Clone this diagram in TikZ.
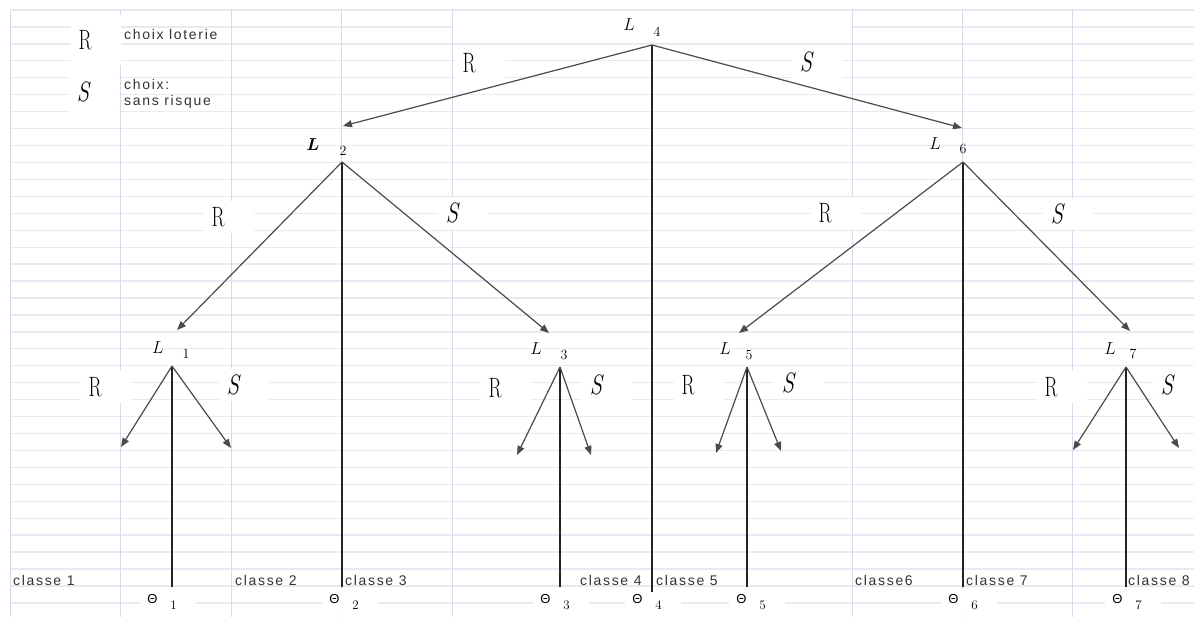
\documentclass[tikz,border=0pt]{standalone}
\usepackage{amsmath}
\usepackage{fontspec}
\usepackage{graphicx}
\usepackage{tikz}
\usetikzlibrary{arrows.meta,positioning,calc}
\newfontfamily\sheetfont[LetterSpace=12]{Liberation Sans}
\newfontfamily\thetafont{Liberation Sans}
\definecolor{rowline}{RGB}{231,234,243}
\definecolor{colline}{RGB}{213,219,234}
\definecolor{branch}{RGB}{75,75,75}
\definecolor{stemc}{RGB}{35,35,35}
\definecolor{inkt}{RGB}{55,50,45}
\newcommand{\narrowR}{\scalebox{0.68}[1]{R}}
\newcommand{\narrowS}{\scalebox{0.8}[1]{\itshape S}}

\begin{document}
\begin{tikzpicture}[x=1pt,y=-1pt,
      hrow/.style={draw=rowline,line width=1.3pt},
      vcol/.style={draw=colline,line width=1pt},
      choice/.style={fill=white,inner sep=0pt,minimum width=50pt,minimum height=32pt,
                     font=\fontsize{28}{28}\selectfont},
      legend/.style={choice,minimum height=50pt},
      lot/.style={inner sep=0pt,font=\fontsize{17}{17}\selectfont},
      idx/.style={inner sep=0pt,font=\fontsize{14}{14}\selectfont},
      th/.style={fill=white,inner sep=0pt,minimum width=56pt,minimum height=26pt,
                 font=\thetafont\fontsize{13}{13}\selectfont},
      cls/.style={inner sep=0pt,anchor=base west,text=inkt,font=\sheetfont\fontsize{14}{14}\selectfont},
      ar/.style={-{Triangle[length=9pt,width=7pt]},line width=1.2pt,color=branch},
      stem/.style={line width=1.4pt,color=stemc}]
      \useasboundingbox (0,0) rectangle (1194,617);
      \fill[white] (0,0) rectangle (1194,617);
      % spreadsheet grid
      \foreach \k in {0,...,35} \draw[hrow] (10,10+16.94*\k) -- (1194,10+16.94*\k);
      \fill[white] (453,18) rectangle (851,35);
      \foreach \x in {10,120,231,341,452,852,962,1072} \draw[vcol] (\x,10) -- (\x,617);
      % legend
      \node[legend] (keyR) at (96,40) {\narrowR\hspace*{22pt}};
      \node[legend] (keyS) at (94,92) {\narrowS\hspace*{22pt}};
      \node[cls] (keyRtxt) at (124,40) {choix loterie};
      \node[cls] (keyStxt) at (124,90) {choix:};
      \node[cls] (keyStxt2) at (124,106) {sans risque};
      % lotteries
      \node[lot] (L4) at (629,25) {$L$};  \node[idx] (n4) at (657,32) {4};
      \node[lot] (L2) at (313,145) {$\boldsymbol{L}$}; \node[idx] (n2) at (343,151) {2};
      \node[lot] (L6) at (935,144) {$L$}; \node[idx] (n6) at (963,149) {6};
      \node[lot] (L1) at (158,348) {$L$}; \node[idx] (n1) at (186,354) {1};
      \node[lot] (L3) at (536,349) {$L$}; \node[idx] (n3) at (564,355) {3};
      \node[lot] (L5) at (725,349) {$L$}; \node[idx] (n5) at (749,355) {5};
      \node[lot] (L7) at (1110,349) {$L$}; \node[idx] (n7) at (1133,354) {7};
      % choice labels
      \node[choice] (c4R) at (480,63) {\narrowR\hspace*{22pt}};
      \node[choice] (c4S) at (817,62) {\narrowS\hspace*{22pt}};
      \node[choice] (c2R) at (229,217) {\narrowR\hspace*{22pt}};
      \node[choice] (c2S) at (463,213) {\narrowS\hspace*{22pt}};
      \node[choice] (c6R) at (836,213) {\narrowR\hspace*{22pt}};
      \node[choice] (c6S) at (1068,214) {\narrowS\hspace*{22pt}};
      \node[choice] (c1R) at (106,387) {\narrowR\hspace*{22pt}};
      \node[choice] (c1S) at (244,385) {\narrowS\hspace*{22pt}};
      \node[choice] (c3R) at (506,388) {\narrowR\hspace*{22pt}};
      \node[choice] (c3S) at (607,385) {\narrowS\hspace*{22pt}};
      \node[choice] (c5R) at (699,385) {\narrowR\hspace*{22pt}};
      \node[choice] (c5S) at (799,383) {\narrowS\hspace*{22pt}};
      \node[choice] (c7R) at (1062,387) {\narrowR\hspace*{22pt}};
      \node[choice] (c7S) at (1178,385) {\narrowS\hspace*{22pt}};
      % classes
      \node[cls] (k1) at (13,585) {classe 1};
      \node[cls] (k2) at (235,585) {classe 2};
      \node[cls] (k3) at (345,585) {classe 3};
      \node[cls] (k4) at (580,585) {classe 4};
      \node[cls] (k5) at (656,585) {classe 5};
      \node[cls] (k6) at (855,585) {classe6};
      \node[cls] (k7) at (966,585) {classe 7};
      \node[cls] (k8) at (1128,585) {classe 8};
      % thetas
      \node[th] (th1) at (168,602) {Θ\hspace*{13pt}\raisebox{-6pt}{\rmfamily 1}\hspace*{12pt}};
      \node[th] (th2) at (350,602) {Θ\hspace*{13pt}\raisebox{-6pt}{\rmfamily 2}\hspace*{12pt}};
      \node[th] (th3) at (561,602) {Θ\hspace*{13pt}\raisebox{-6pt}{\rmfamily 3}\hspace*{12pt}};
      \node[th] (th4) at (653,602) {Θ\hspace*{13pt}\raisebox{-6pt}{\rmfamily 4}\hspace*{12pt}};
      \node[th] (th5) at (757,602) {Θ\hspace*{13pt}\raisebox{-6pt}{\rmfamily 5}\hspace*{12pt}};
      \node[th] (th6) at (969,602) {Θ\hspace*{13pt}\raisebox{-6pt}{\rmfamily 6}\hspace*{12pt}};
      \node[th] (th7) at (1133,602) {Θ\hspace*{13pt}\raisebox{-6pt}{\rmfamily 7}\hspace*{12pt}};
      % branch points and ends
      \coordinate (a4) at (652,45);  \coordinate (a2) at (342,162); \coordinate (a6) at (963,162);
      \coordinate (a1) at (172,366); \coordinate (a3) at (560,367); \coordinate (a5) at (747,367);
      \coordinate (a7) at (1126,367);
      \coordinate (t2) at (343,126); \coordinate (t6) at (962,128);
      \coordinate (t1) at (177,330); \coordinate (t3) at (549,333);
      \coordinate (t5) at (739,333); \coordinate (t7) at (1130,331);
      \coordinate (r1) at (121,447); \coordinate (s1) at (231,448);
      \coordinate (r3) at (517,455); \coordinate (s3) at (591,455);
      \coordinate (r5) at (716,453); \coordinate (s5) at (781,451);
      \coordinate (r7) at (1073,450); \coordinate (s7) at (1179,448);
      \coordinate (b1) at (172,587); \coordinate (b2) at (342,587); \coordinate (b3) at (560,587);
      \coordinate (b4) at (652,592); \coordinate (b5) at (747,587); \coordinate (b6) at (963,587);
      \coordinate (b7) at (1126,587);
      % stems
      \draw[stem] (a4) -- (b4); \draw[stem] (a2) -- (b2); \draw[stem] (a6) -- (b6);
      \draw[stem] (a1) -- (b1); \draw[stem] (a3) -- (b3); \draw[stem] (a5) -- (b5);
      \draw[stem] (a7) -- (b7);
      % branches
      \draw[ar] (a4) -- (t2); \draw[ar] (a4) -- (t6);
      \draw[ar] (a2) -- (t1); \draw[ar] (a2) -- (t3);
      \draw[ar] (a6) -- (t5); \draw[ar] (a6) -- (t7);
      \draw[ar] (a1) -- (r1); \draw[ar] (a1) -- (s1);
      \draw[ar] (a3) -- (r3); \draw[ar] (a3) -- (s3);
      \draw[ar] (a5) -- (r5); \draw[ar] (a5) -- (s5);
      \draw[ar] (a7) -- (r7); \draw[ar] (a7) -- (s7);
    \end{tikzpicture}
\end{document}
